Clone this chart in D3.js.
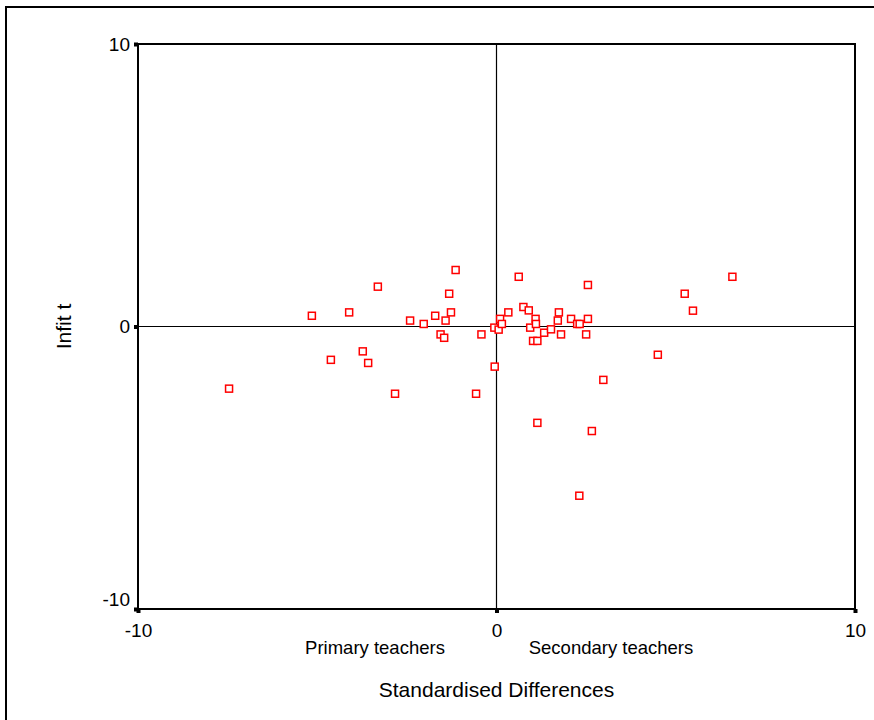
<!DOCTYPE html>
<html>
<head>
<meta charset="utf-8">
<script src="https://cdn.jsdelivr.net/npm/d3@7"></script>
<style>
html,body{margin:0;padding:0;background:#fff;}
svg{display:block;}
text{font-family:"Liberation Sans",Arial,sans-serif;fill:#000;}
</style>
</head>
<body>
<svg id="chart" width="874" height="720"></svg>
<script>
// Standardised differences (x) and Infit t (y)
const stdDiff = [-7.46,-5.15,-4.11,-3.31,-1.14,-1.32,-1.27,-1.42,-1.71,-2.41,-2.03,-1.56,-1.46,-0.42,-4.62,-3.73,-3.58,-2.83,-0.57,-0.05,-0.06,0.06,0.10,0.15,0.33,0.62,0.75,0.90,0.94,1.09,1.10,1.02,1.14,1.33,1.52,1.71,1.74,1.80,2.08,2.25,2.32,2.55,2.55,2.50,1.14,2.66,2.31,2.98,4.50,5.25,5.48,6.58];
const infitT  = [-2.20,0.38,0.50,1.41,2.00,1.16,0.50,0.21,0.38,0.21,0.09,-0.28,-0.40,-0.28,-1.18,-0.88,-1.29,-2.38,-2.38,-1.42,-0.04,-0.11,0.27,0.09,0.50,1.76,0.69,0.57,-0.04,0.27,0.09,-0.51,-0.51,-0.22,-0.10,0.21,0.50,-0.28,0.27,0.09,0.09,0.27,1.47,-0.28,-3.41,-3.70,-5.99,-1.89,-1.00,1.16,0.56,1.76];
const xTicks = [-10, 0, 10];
const yTicks = [-10, 0, 10];
const xDomain = [-10, 10];
const yDomain = [-10, 10];
const groupLabels = ["Primary teachers", "Secondary teachers"];
const xTitle = "Standardised Differences";
const yTitle = "Infit t";

const svg = d3.select("#chart");
const L = 138, R = 855, T = 44, B = 609;
const x = d3.scaleLinear().domain(xDomain).range([L, R]);
const y = d3.scaleLinear().domain(yDomain).range([B, T]);
const fmt = d => String(d);

// outer frame
svg.append("rect").attr("x", 6).attr("y", 7).attr("width", 880).attr("height", 730)
  .attr("fill", "none").attr("stroke", "#000").attr("stroke-width", 2);

// zero lines
svg.append("line").attr("x1", x(0)).attr("x2", x(0)).attr("y1", T).attr("y2", B)
  .attr("stroke", "#000").attr("stroke-width", 1.2);
svg.append("line").attr("x1", L).attr("x2", R).attr("y1", y(0)).attr("y2", y(0))
  .attr("stroke", "#000").attr("stroke-width", 1.2);

// plot frame
svg.append("rect").attr("x", L).attr("y", T).attr("width", R - L).attr("height", B - T)
  .attr("fill", "none").attr("stroke", "#000").attr("stroke-width", 2);

// axes with square tick markers
const yAxis = d3.axisLeft(y).tickValues(yTicks).tickSize(0).tickPadding(8).tickFormat(fmt);
const gy = svg.append("g").attr("transform", `translate(${L},0)`).call(yAxis);
gy.select(".domain").remove();
gy.selectAll(".tick text").attr("font-size", 19).attr("font-family", "Liberation Sans, Arial, sans-serif")
  .attr("dy", d => d === -10 ? "-0.2em" : "0.32em");
gy.selectAll(".tick").append("rect").attr("x", -4).attr("y", -2).attr("width", 4).attr("height", 4).attr("fill", "#000");

const xAxis = d3.axisBottom(x).tickValues(xTicks).tickSize(0).tickPadding(15).tickFormat(fmt);
const gx = svg.append("g").attr("transform", `translate(0,${B})`).call(xAxis);
gx.select(".domain").remove();
gx.selectAll(".tick text").attr("font-size", 19).attr("font-family", "Liberation Sans, Arial, sans-serif");
gx.selectAll(".tick").append("rect").attr("x", -2).attr("y", 0).attr("width", 4).attr("height", 4).attr("fill", "#000");

// points
svg.append("g").selectAll("rect").data(stdDiff.map((d, i) => [d, infitT[i]])).join("rect")
  .attr("x", d => x(d[0]) - 3.5).attr("y", d => y(d[1]) - 3.5)
  .attr("width", 7).attr("height", 7)
  .attr("fill", "#fff").attr("stroke", "#ff0000").attr("stroke-width", 1.5);

// group labels
svg.append("text").attr("x", 375).attr("y", 654).attr("text-anchor", "middle").attr("font-size", 18.5).text(groupLabels[0]);
svg.append("text").attr("x", 611).attr("y", 654).attr("text-anchor", "middle").attr("font-size", 18.5).text(groupLabels[1]);

// axis titles
svg.append("text").attr("x", x(0)).attr("y", 697).attr("text-anchor", "middle").attr("font-size", 21).text(xTitle);
svg.append("text").attr("transform", `translate(71,${y(0)}) rotate(-90)`).attr("text-anchor", "middle")
  .attr("font-size", 21).attr("font-family", "Open Sans, sans-serif").text(yTitle);
</script>
</body>
</html>
